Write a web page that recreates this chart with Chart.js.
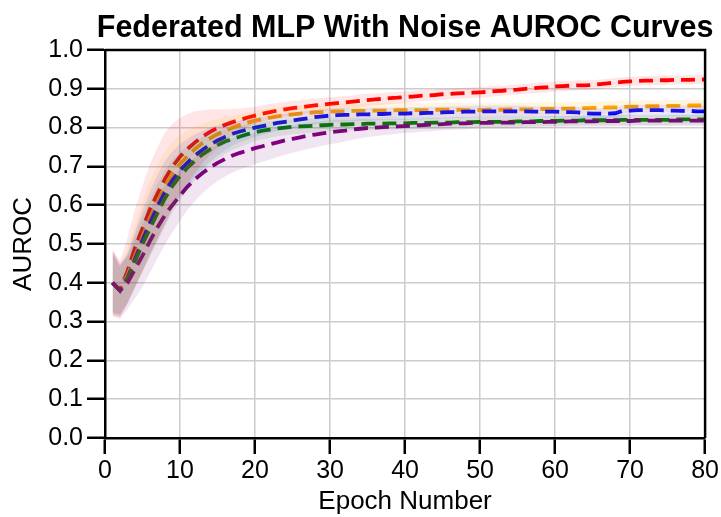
<!DOCTYPE html>
<html>
<head>
<meta charset="utf-8">
<script src="https://cdn.jsdelivr.net/npm/chart.js@4"></script>
<style>
  html, body { margin: 0; padding: 0; background: #fff; }
  canvas { display: block; }
</style>
</head>
<body>
<canvas id="aurocChart" width="721" height="517"></canvas>
<script>
// epochs 1..80
var epochs = [1,2,3,4,5,6,7,8,9,10,11,12,13,14,15,16,17,18,19,20,
  21,22,23,24,25,26,27,28,29,30,31,32,33,34,35,36,37,38,39,40,
  41,42,43,44,45,46,47,48,49,50,51,52,53,54,55,56,57,58,59,60,
  61,62,63,64,65,66,67,68,69,70,71,72,73,74,75,76,77,78,79,80];

var xTicks = [0,10,20,30,40,50,60,70,80];
var yTicks = [0.0,0.1,0.2,0.3,0.4,0.5,0.6,0.7,0.8,0.9,1.0];

var chartTitle = 'Federated MLP With Noise AUROC Curves';

var redMean = [0.400,0.382,0.430,0.490,0.540,0.590,0.630,0.668,0.700,0.725,
  0.745,0.762,0.777,0.789,0.799,0.807,0.814,0.820,0.826,0.831,
  0.836,0.840,0.844,0.847,0.850,0.852,0.855,0.857,0.859,0.861,
  0.863,0.865,0.867,0.869,0.871,0.873,0.874,0.876,0.877,0.879,
  0.880,0.882,0.883,0.884,0.886,0.887,0.888,0.889,0.890,0.891,
  0.892,0.894,0.895,0.897,0.898,0.900,0.901,0.903,0.904,0.906,
  0.907,0.908,0.909,0.909,0.910,0.912,0.914,0.916,0.918,0.919,
  0.920,0.921,0.921,0.922,0.922,0.923,0.923,0.923,0.924,0.924];
var redStd = [0.085,0.075,0.085,0.100,0.110,0.115,0.120,0.120,0.110,0.100,
  0.090,0.080,0.068,0.058,0.048,0.040,0.034,0.029,0.025,0.022,
  0.021,0.020,0.020,0.019,0.019,0.018,0.018,0.018,0.017,0.017,
  0.017,0.016,0.016,0.016,0.016,0.015,0.015,0.015,0.015,0.015,
  0.015,0.014,0.014,0.014,0.014,0.014,0.014,0.014,0.014,0.014,
  0.014,0.014,0.013,0.013,0.013,0.013,0.013,0.013,0.013,0.013,
  0.013,0.013,0.013,0.013,0.012,0.012,0.012,0.012,0.012,0.012,
  0.012,0.012,0.012,0.012,0.012,0.012,0.012,0.012,0.012,0.012];

var orangeMean = [0.400,0.381,0.420,0.470,0.520,0.568,0.610,0.648,0.680,0.706,
  0.727,0.745,0.760,0.772,0.783,0.792,0.800,0.807,0.813,0.818,
  0.822,0.826,0.829,0.832,0.834,0.836,0.838,0.839,0.840,0.841,
  0.842,0.842,0.843,0.843,0.843,0.844,0.844,0.844,0.845,0.845,
  0.845,0.845,0.845,0.846,0.846,0.846,0.846,0.845,0.845,0.845,
  0.846,0.846,0.846,0.847,0.847,0.847,0.847,0.848,0.848,0.848,
  0.849,0.849,0.850,0.850,0.851,0.851,0.852,0.852,0.853,0.854,
  0.854,0.855,0.855,0.855,0.856,0.856,0.856,0.857,0.857,0.857];
var orangeStd = [0.080,0.065,0.070,0.080,0.090,0.095,0.095,0.090,0.085,0.075,
  0.065,0.058,0.050,0.045,0.040,0.035,0.031,0.028,0.026,0.025,
  0.024,0.024,0.023,0.023,0.022,0.022,0.021,0.021,0.020,0.020,
  0.020,0.020,0.020,0.019,0.019,0.019,0.019,0.019,0.019,0.019,
  0.018,0.018,0.018,0.018,0.018,0.018,0.018,0.018,0.018,0.018,
  0.017,0.017,0.017,0.017,0.017,0.017,0.017,0.017,0.017,0.017,
  0.016,0.016,0.016,0.016,0.016,0.016,0.016,0.016,0.016,0.016,
  0.016,0.016,0.015,0.015,0.015,0.015,0.015,0.015,0.015,0.015];

var blueMean = [0.400,0.380,0.412,0.460,0.510,0.555,0.596,0.634,0.665,0.690,
  0.710,0.728,0.743,0.756,0.767,0.776,0.784,0.790,0.795,0.800,
  0.804,0.808,0.812,0.815,0.818,0.821,0.824,0.827,0.829,0.831,
  0.832,0.833,0.833,0.834,0.834,0.835,0.835,0.836,0.836,0.836,
  0.837,0.837,0.838,0.838,0.839,0.840,0.840,0.841,0.841,0.842,
  0.842,0.842,0.842,0.842,0.842,0.842,0.841,0.841,0.841,0.841,
  0.840,0.840,0.839,0.837,0.836,0.836,0.836,0.837,0.843,0.844,
  0.845,0.845,0.845,0.845,0.844,0.844,0.843,0.843,0.842,0.842];
var blueStd = [0.080,0.065,0.065,0.072,0.078,0.082,0.082,0.080,0.074,0.068,
  0.061,0.055,0.049,0.044,0.039,0.035,0.031,0.028,0.026,0.024,
  0.023,0.022,0.021,0.021,0.020,0.020,0.019,0.019,0.018,0.018,
  0.018,0.018,0.017,0.017,0.017,0.017,0.017,0.016,0.016,0.016,
  0.016,0.016,0.016,0.016,0.015,0.015,0.015,0.015,0.015,0.015,
  0.015,0.015,0.015,0.015,0.015,0.015,0.014,0.014,0.014,0.014,
  0.014,0.014,0.014,0.014,0.014,0.014,0.014,0.014,0.014,0.014,
  0.014,0.014,0.014,0.014,0.014,0.014,0.014,0.014,0.014,0.014];

var greenMean = [0.400,0.380,0.410,0.455,0.500,0.540,0.580,0.618,0.650,0.675,
  0.697,0.715,0.731,0.744,0.755,0.764,0.771,0.777,0.783,0.788,
  0.792,0.795,0.798,0.800,0.802,0.803,0.804,0.805,0.806,0.807,
  0.808,0.808,0.809,0.809,0.810,0.810,0.810,0.811,0.811,0.811,
  0.812,0.812,0.812,0.813,0.813,0.813,0.814,0.814,0.814,0.815,
  0.815,0.815,0.815,0.815,0.816,0.816,0.816,0.817,0.817,0.817,
  0.818,0.818,0.818,0.819,0.819,0.819,0.819,0.819,0.820,0.820,
  0.820,0.820,0.820,0.820,0.820,0.821,0.821,0.821,0.821,0.821];
var greenStd = [0.075,0.060,0.062,0.068,0.072,0.075,0.075,0.072,0.068,0.062,
  0.056,0.050,0.045,0.040,0.036,0.032,0.029,0.027,0.025,0.023,
  0.022,0.021,0.020,0.020,0.019,0.019,0.018,0.018,0.018,0.017,
  0.017,0.017,0.017,0.016,0.016,0.016,0.016,0.016,0.015,0.015,
  0.015,0.015,0.015,0.015,0.015,0.014,0.014,0.014,0.014,0.014,
  0.014,0.014,0.014,0.014,0.014,0.013,0.013,0.013,0.013,0.013,
  0.013,0.013,0.013,0.013,0.013,0.013,0.013,0.013,0.013,0.013,
  0.013,0.013,0.013,0.013,0.013,0.013,0.013,0.013,0.013,0.013];

var purpleMean = [0.400,0.380,0.400,0.435,0.470,0.508,0.543,0.575,0.601,0.625,
  0.648,0.667,0.683,0.697,0.709,0.719,0.728,0.735,0.741,0.747,
  0.752,0.757,0.762,0.767,0.771,0.775,0.779,0.782,0.785,0.788,
  0.790,0.792,0.795,0.797,0.799,0.800,0.801,0.802,0.803,0.804,
  0.805,0.806,0.807,0.808,0.809,0.810,0.811,0.811,0.812,0.812,
  0.812,0.813,0.813,0.813,0.813,0.814,0.814,0.814,0.815,0.815,
  0.815,0.816,0.816,0.816,0.816,0.817,0.817,0.817,0.817,0.817,
  0.818,0.818,0.818,0.818,0.818,0.818,0.818,0.818,0.818,0.818];
var purpleStd = [0.085,0.070,0.068,0.075,0.080,0.082,0.080,0.076,0.070,0.065,
  0.060,0.056,0.052,0.049,0.047,0.045,0.044,0.043,0.042,0.041,
  0.040,0.039,0.038,0.037,0.036,0.035,0.034,0.033,0.032,0.031,
  0.030,0.028,0.026,0.025,0.023,0.022,0.021,0.020,0.019,0.018,
  0.018,0.017,0.017,0.017,0.016,0.016,0.016,0.016,0.015,0.015,
  0.015,0.015,0.015,0.015,0.015,0.014,0.014,0.014,0.014,0.014,
  0.014,0.014,0.014,0.014,0.014,0.014,0.014,0.014,0.014,0.014,
  0.014,0.014,0.014,0.014,0.014,0.014,0.014,0.014,0.014,0.014];

var series = [
  { name: 'purple', mean: purpleMean, std: purpleStd, line: '#800080', fill: 'rgba(128, 0, 128, 0.10)' },
  { name: 'green', mean: greenMean, std: greenStd, line: '#008000', fill: 'rgba(0, 128, 0, 0.10)' },
  { name: 'blue', mean: blueMean, std: blueStd, line: '#0000ff', fill: 'rgba(0, 0, 255, 0.09)' },
  { name: 'orange', mean: orangeMean, std: orangeStd, line: '#ffa500', fill: 'rgba(255, 165, 0, 0.12)' },
  { name: 'red', mean: redMean, std: redStd, line: '#ff0000', fill: 'rgba(255, 0, 0, 0.10)' }
];

function pts(vals) {
  return epochs.map(function (e, i) { return { x: e, y: vals[i] }; });
}

var datasets = [];
series.forEach(function (s) {
  datasets.push({
    label: s.name + ' upper',
    data: pts(s.mean.map(function (v, i) { return v + s.std[i]; })),
    borderWidth: 0, pointRadius: 0, fill: false, borderColor: 'transparent'
  });
  datasets.push({
    label: s.name + ' lower',
    data: pts(s.mean.map(function (v, i) { return v - s.std[i]; })),
    borderWidth: 0, pointRadius: 0, fill: '-1', borderColor: 'transparent',
    backgroundColor: s.fill
  });
});
series.forEach(function (s) {
  datasets.push({
    label: s.name,
    data: pts(s.mean),
    borderColor: s.line,
    borderWidth: 3.8,
    borderDash: [14, 7],
    pointRadius: 0,
    fill: false
  });
});

var font = "'Liberation Sans', Arial, sans-serif";

// top/right spines + title centred over the axes (like matplotlib)
var frame = {
  id: 'frame',
  afterDraw: function (chart) {
    var a = chart.chartArea, ctx = chart.ctx;
    ctx.save();
    ctx.strokeStyle = '#000';
    ctx.lineWidth = 2.5;
    ctx.beginPath();
    ctx.moveTo(a.left, a.top);
    ctx.lineTo(a.right, a.top);
    ctx.lineTo(a.right, a.bottom);
    ctx.stroke();
    ctx.fillStyle = '#000';
    ctx.font = 'bold 30.5px ' + font;
    ctx.textAlign = 'center';
    ctx.textBaseline = 'alphabetic';
    ctx.fillText(chartTitle, (a.left + a.right) / 2, 37);
    ctx.restore();
  }
};

var ctxAuroc = document.getElementById('aurocChart').getContext('2d');
var aurocChart = new Chart(ctxAuroc, {
  type: 'line',
  data: { datasets: datasets },
  plugins: [frame],
  options: {
    responsive: false,
    animation: false,
    devicePixelRatio: 1,
    layout: { padding: { left: 0, right: 14, top: 50, bottom: 0 } },
    plugins: {
      legend: { display: false },
      tooltip: { enabled: false },
      title: { display: false }
    },
    scales: {
      x: {
        type: 'linear',
        min: 0, max: 80,
        afterBuildTicks: function (scale) {
          scale.ticks = xTicks.map(function (v) { return { value: v }; });
        },
        afterFit: function (scale) { scale.height = 79; },
        ticks: { color: '#000', font: { family: font, size: 25 }, padding: 2, maxRotation: 0 },
        grid: { color: '#cccccc', lineWidth: 1.5, tickColor: '#000', tickLength: 16, tickWidth: 2.5 },
        border: { color: '#000', width: 2.5 },
        title: { display: true, text: 'Epoch Number', color: '#000',
          font: { family: font, size: 26 }, padding: { top: 0, bottom: 0 } }
      },
      y: {
        min: 0, max: 1,
        afterBuildTicks: function (scale) {
          scale.ticks = yTicks.map(function (v) { return { value: v }; });
        },
        afterFit: function (scale) { scale.width = 105; },
        ticks: {
          color: '#000', font: { family: font, size: 25 }, padding: 4,
          callback: function (v) { return Number(v).toFixed(1); }
        },
        grid: { color: '#cccccc', lineWidth: 1.5, tickColor: '#000', tickLength: 18, tickWidth: 2.5 },
        border: { color: '#000', width: 2.5 },
        title: { display: true, text: 'AUROC', color: '#000',
          font: { family: font, size: 26 }, padding: { top: 8, bottom: 0 } }
      }
    }
  }
});
</script>
</body>
</html>
